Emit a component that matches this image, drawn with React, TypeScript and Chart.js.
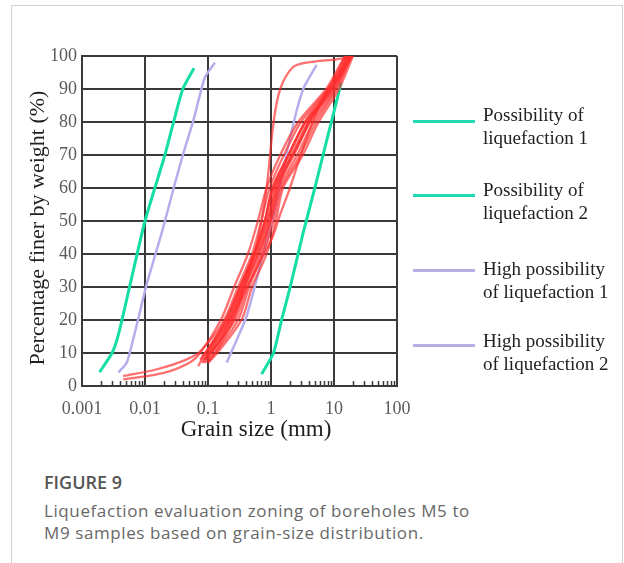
import React, { useEffect, useRef } from "react";
import { Chart, registerables } from "chart.js";

Chart.register(...registerables);

// Axis ticks
const xTickValues = [0.001, 0.01, 0.1, 1, 10, 100];
const xTickLabels = ["0.001", "0.01", "0.1", "1", "10", "100"];
const yTickValues = [0, 10, 20, 30, 40, 50, 60, 70, 80, 90, 100];
const minorMultipliers = [2, 3, 4, 5, 6, 7, 8, 9];

// Zoning boundary curves (grain size in mm, percent finer)
const liq1X = [0.0019, 0.003, 0.0038, 0.0058, 0.01, 0.0207, 0.0288, 0.0398, 0.06];
const liq1Y = [4.2, 10, 15.7, 30.7, 50, 70, 80.4, 90, 96.3];

const liq2X = [0.71, 1.09, 1.48, 2.0, 3.2, 5.0, 7.66, 12.1, 13];
const liq2Y = [3.6, 9.9, 20.2, 29.7, 46, 60.3, 74.4, 89.5, 92];

const highLiq1X = [0.0038, 0.0052, 0.0106, 0.0188, 0.0288, 0.0405, 0.0585, 0.089, 0.129];
const highLiq1Y = [4.1, 7.3, 30.7, 47, 60.3, 70.4, 80.4, 93.5, 98];

const highLiq2X = [0.198, 0.41, 0.75, 1.2, 1.77, 2.55, 3.34, 5.3];
const highLiq2Y = [7.1, 21.2, 40, 55, 70.4, 83.4, 90.5, 97.3];

// Borehole M5–M9 sample gradation curves: [grain size (mm), percent finer]
const sample01 = [[0.0045, 2], [0.02, 4], [0.05, 7], [0.075, 10], [0.16, 20], [0.26, 30], [0.43, 40], [0.62, 50], [0.85, 60], [1.4, 70], [2.7, 80], [7.5, 90], [14, 99], [16, 100]];
const sample02 = [[0.0045, 3], [0.015, 5], [0.045, 8], [0.08, 11], [0.18, 20], [0.3, 30], [0.5, 40], [0.7, 50], [0.95, 60], [1.6, 70], [3, 80], [8, 90], [15, 100]];
const sample03 = [[0.07, 6], [0.09, 10], [0.2, 20], [0.33, 30], [0.55, 40], [0.8, 50], [1.05, 60], [1.9, 70], [3.5, 80], [9, 90], [17, 100]];
const sample04 = [[0.08, 7], [0.1, 10], [0.22, 20], [0.36, 30], [0.6, 40], [0.88, 50], [1.15, 60], [2.1, 70], [3.9, 80], [9.5, 90], [17.5, 100]];
const sample05 = [[0.085, 8], [0.11, 10], [0.25, 20], [0.38, 30], [0.65, 40], [0.95, 50], [1.25, 60], [2.3, 70], [4.2, 80], [10, 90], [18, 100]];
const sample06 = [[0.09, 9], [0.12, 11], [0.27, 20], [0.42, 30], [0.7, 40], [1.0, 50], [1.35, 60], [2.6, 70], [4.7, 80], [10.5, 90], [18.5, 100]];
const sample07 = [[0.1, 8], [0.13, 10], [0.3, 20], [0.45, 30], [0.75, 40], [1.1, 50], [1.45, 60], [2.9, 70], [5.2, 80], [11, 90], [19, 100]];
const sample08 = [[0.1, 7], [0.14, 10], [0.34, 20], [0.5, 30], [0.85, 40], [1.2, 50], [1.55, 60], [3.2, 70], [5.7, 80], [12, 90], [20, 100]];
const sample09 = [[0.075, 8], [0.1, 11], [0.2, 21], [0.34, 31], [0.58, 42], [0.85, 52], [1.1, 61], [2.0, 71], [3.7, 81], [9, 91], [16, 100]];
const sample10 = [[0.085, 7], [0.12, 12], [0.24, 22], [0.4, 33], [0.68, 44], [0.98, 53], [1.3, 62], [2.5, 72], [4.5, 82], [10.5, 92], [18, 100]];
const sample11 = [[0.09, 8], [0.15, 13], [0.25, 22], [0.4, 32], [0.6, 43], [0.85, 60], [1.1, 80], [1.4, 90], [2.2, 96.5], [3.7, 98], [11, 99], [20, 99.7]];
const sample12 = [[0.1, 7], [0.2, 16], [0.35, 27], [0.6, 36], [1.05, 45], [1.4, 52], [2, 60], [3.5, 74], [7, 88], [12, 95], [17, 100]];
const sample13 = [[0.08, 9], [0.11, 12], [0.21, 21], [0.31, 29], [0.52, 39], [0.78, 49], [1.0, 58], [1.8, 69], [3.3, 79], [8.5, 89], [16.5, 100]];
const sample14 = [[0.09, 7], [0.13, 12], [0.28, 23], [0.44, 33], [0.72, 43], [1.05, 52], [1.4, 62], [2.7, 73], [5, 83], [11.5, 93], [19.5, 100]];

const samples = [
  sample01, sample02, sample03, sample04, sample05, sample06, sample07,
  sample08, sample09, sample10, sample11, sample12, sample13, sample14,
];

const GREEN = "#14dea6";
const PURPLE = "#b6aeec";
const RED = "rgba(255, 45, 45, 0.68)";
const GRID = "#3a3a3a";
const SERIF = "'Liberation Serif', 'Times New Roman', serif";

const legendEntries = [
  { lines: ["Possibility of", "liquefaction 1"], color: "#22d9b2", lineTop: 120, textTop: 103 },
  { lines: ["Possibility of", "liquefaction 2"], color: "#22d9b2", lineTop: 194, textTop: 178 },
  { lines: ["High possibility", "of liquefaction 1"], color: "#b4aee2", lineTop: 269, textTop: 257 },
  { lines: ["High possibility", "of liquefaction 2"], color: "#b4aee2", lineTop: 344, textTop: 329 },
];

const toPoints = (xs: number[], ys: number[]) => xs.map((x, i) => ({ x, y: ys[i] }));

const decorPlugin = {
  id: "decor",
  beforeDatasetsDraw(chart: any) {
    const { ctx, chartArea, scales } = chart;
    const xs = scales.x;
    ctx.save();
    ctx.strokeStyle = GRID;
    ctx.lineWidth = 1.5;
    for (let d = 0; d < xTickValues.length - 1; d++) {
      for (const m of minorMultipliers) {
        const px = Math.round(xs.getPixelForValue(xTickValues[d] * m)) + 0.5;
        ctx.beginPath();
        ctx.moveTo(px, chartArea.bottom);
        ctx.lineTo(px, chartArea.bottom - 5);
        ctx.stroke();
      }
    }
    ctx.restore();
  },
  afterDraw(chart: any) {
    const { ctx } = chart;
    ctx.save();
    ctx.fillStyle = "#1e1e1e";
    ctx.font = `23px ${SERIF}`;
    ctx.textAlign = "center";
    ctx.textBaseline = "alphabetic";
    ctx.fillText("Grain size (mm)", 244, 430);
    ctx.translate(26, 222);
    ctx.rotate(-Math.PI / 2);
    ctx.font = `22px ${SERIF}`;
    ctx.textBaseline = "middle";
    ctx.fillText("Percentage finer by weight (%)", 0, 0);
    ctx.restore();
  },
};

function GradationChart() {
  const canvasRef = useRef<HTMLCanvasElement | null>(null);

  useEffect(() => {
    document.body.style.overflow = "hidden";
    const canvas = canvasRef.current;
    if (!canvas) return;

    const sampleSets = samples.map((s) => ({
      data: s.map(([x, y]) => ({ x, y })),
      borderColor: RED,
      borderWidth: 2.3,
      pointRadius: 0,
      tension: 0.3,
      fill: false,
    }));

    const boundary = (xs: number[], ys: number[], color: string, width: number) => ({
      data: toPoints(xs, ys),
      borderColor: color,
      borderWidth: width,
      pointRadius: 0,
      tension: 0.2,
      fill: false,
    });

    const chart = new Chart(canvas, {
      type: "line",
      data: {
        datasets: [
          ...sampleSets,
          boundary(liq1X, liq1Y, GREEN, 3),
          boundary(liq2X, liq2Y, GREEN, 3),
          boundary(highLiq1X, highLiq1Y, PURPLE, 2.5),
          boundary(highLiq2X, highLiq2Y, PURPLE, 2.5),
        ],
      },
      options: {
        animation: false,
        responsive: false,
        maintainAspectRatio: false,
        layout: { padding: { top: 50, right: 225, left: 0, bottom: 0 } },
        plugins: { legend: { display: false }, tooltip: { enabled: false } },
        scales: {
          x: {
            type: "logarithmic",
            min: 0.001,
            max: 100,
            afterBuildTicks: (scale: any) => {
              scale.ticks = xTickValues.map((v) => ({ value: v }));
            },
            afterFit: (scale: any) => {
              scale.height = 70;
            },
            ticks: {
              autoSkip: false,
              maxRotation: 0,
              padding: 12,
              color: "#5a5a5a",
              font: { family: SERIF, size: 18 },
              callback: (_v: any, i: number) => xTickLabels[i],
            },
            grid: { color: GRID, lineWidth: 2, drawTicks: false },
            border: { color: GRID, width: 2 },
          },
          y: {
            type: "linear",
            min: 0,
            max: 100,
            afterBuildTicks: (scale: any) => {
              scale.ticks = yTickValues.map((v) => ({ value: v }));
            },
            afterFit: (scale: any) => {
              scale.width = 70;
            },
            ticks: {
              padding: 5,
              color: "#5a5a5a",
              font: { family: SERIF, size: 18 },
              callback: (v: any) => String(v),
            },
            grid: { color: GRID, lineWidth: 2, drawTicks: false },
            border: { color: GRID, width: 2 },
          },
        },
      },
      plugins: [decorPlugin],
    });

    return () => chart.destroy();
  }, []);

  return (
    <canvas
      ref={canvasRef}
      width={610}
      height={450}
      style={{ position: "absolute", left: 12, top: 6, width: 610, height: 450 }}
    />
  );
}

export default function App() {
  return (
    <div style={{ position: "absolute", left: 0, top: 0, width: 624, height: 563, background: "#fff", overflow: "hidden" }}>
      <div
        style={{
          position: "absolute",
          left: 11,
          top: 5,
          width: 612,
          height: 570,
          border: "1.5px solid #d2d2d2",
          boxSizing: "border-box",
        }}
      />
      <GradationChart />
      {legendEntries.map((e, i) => (
        <React.Fragment key={i}>
          <div style={{ position: "absolute", left: 413, top: e.lineTop, width: 62, height: 3, background: e.color }} />
          <div
            style={{
              position: "absolute",
              left: 483,
              top: e.textTop,
              fontFamily: SERIF,
              fontSize: 19,
              lineHeight: "23px",
              color: "#222",
              whiteSpace: "nowrap",
            }}
          >
            {e.lines.map((l, j) => (
              <div key={j}>{l}</div>
            ))}
          </div>
        </React.Fragment>
      ))}
      <div
        style={{
          position: "absolute",
          left: 44,
          top: 471,
          fontFamily: "'Open Sans', sans-serif",
          fontWeight: 600,
          fontSize: 18,
          lineHeight: "22px",
          color: "#555",
        }}
      >
        FIGURE 9
      </div>
      <div
        style={{
          position: "absolute",
          left: 44,
          top: 500,
          fontFamily: "'Open Sans', sans-serif",
          fontSize: 17,
          lineHeight: "22px",
          letterSpacing: "0.6px",
          color: "#686868",
          whiteSpace: "nowrap",
        }}
      >
        <div>Liquefaction evaluation zoning of boreholes M5 to</div>
        <div>M9 samples based on grain-size distribution.</div>
      </div>
    </div>
  );
}
